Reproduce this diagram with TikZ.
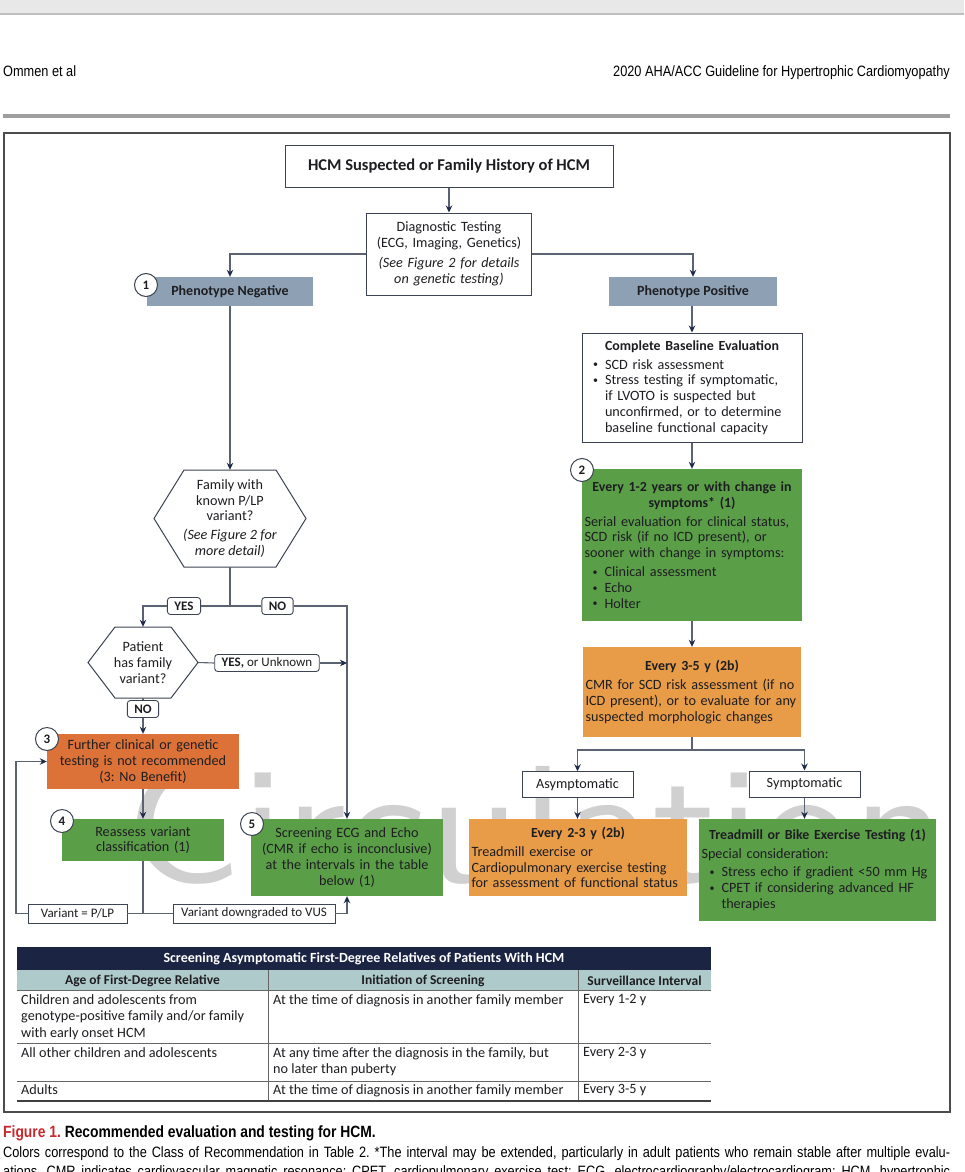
\documentclass[tikz,border=0pt]{standalone}
\usepackage{fontspec}
\setmainfont{Carlito}
\newfontfamily\narrowfont[FakeStretch=0.85]{Liberation Sans}
\usetikzlibrary{arrows.meta,calc}
\definecolor{phen}{HTML}{8DA0B4}
\definecolor{grn}{HTML}{5B9E48}
\definecolor{org}{HTML}{E89C48}
\definecolor{redo}{HTML}{DD7238}
\definecolor{navy}{HTML}{1C2444}
\definecolor{teal}{HTML}{AFCACA}
\definecolor{linec}{HTML}{5B6372}
\definecolor{tipc}{HTML}{1E2A4A}
\definecolor{bordc}{HTML}{3C4352}
\definecolor{txtc}{HTML}{1E1E22}
\definecolor{wmc}{HTML}{D0D0D0}
\definecolor{figred}{HTML}{C62A2F}
\setlength{\parindent}{0pt}
\frenchspacing
\newcommand\fb{\fontsize{14.2}{15.8}\selectfont}
\newcommand\fl{\fontsize{13}{15}\selectfont}
\newcommand\bitem[2]{\par\noindent\makebox[20pt][l]{\hspace{8pt}\raisebox{1.2pt}{\fontsize{10}{10}\selectfont\textbullet}}\parbox[t]{#1}{#2}}
\newcommand\hd[1]{{\centering\fontsize{13.9}{15.8}\selectfont\bfseries #1\par}\vspace{3pt}}
\tikzset{
  conn/.style={draw=linec, line width=1.1pt},
  arr/.style={conn, -{Stealth[length=7pt, width=6.5pt, color=tipc]}},
  wbox/.style={draw=bordc, fill=white, line width=1pt, inner xsep=2.5pt, inner ysep=0pt, text=txtc, font=\fb},
  cbox/.style={inner xsep=2.5pt, inner ysep=0pt, text=txtc, font=\fb},
  pbox/.style={fill=phen, inner sep=0pt, text=txtc, font=\fontsize{14}{16}\selectfont\bfseries},
  hexs/.style={draw=bordc, fill=white, line width=1pt},
  lbl/.style={draw=bordc, fill=white, line width=0.9pt, rounded corners=3pt, inner xsep=7pt, inner ysep=0pt, minimum height=17, font=\fl, text=txtc},
  sq/.style={draw=bordc, fill=white, line width=0.9pt, inner xsep=7pt, inner ysep=0pt, minimum height=19, font=\fl, text=txtc},
  num/.style={circle, draw=bordc, fill=white, line width=1pt, minimum size=23, inner sep=0pt, font=\fontsize{13}{13}\selectfont\bfseries, text=txtc},
  tcell/.style={anchor=north west, inner sep=0pt, align=left, font=\fontsize{14.2}{16.5}\selectfont, text=txtc},
  thd/.style={inner sep=0pt, font=\fontsize{13.5}{16}\selectfont\bfseries, text=txtc},
  tline/.style={draw=gray!80!black, line width=0.8pt}
}
\begin{document}
\begin{tikzpicture}[x=1pt,y=-1pt]
\useasboundingbox (0,0) rectangle (964,1172);
\clip (0,0) rectangle (964,1172);
\fill[white] (0,0) rectangle (964,1172);
% page header
\fill[black!9] (0,0) rectangle (964,13);
\draw[black!25, line width=2pt] (0,14) -- (964,14);
\node[anchor=base west, inner sep=0pt] (hl) at (3,77) {\narrowfont\fontsize{15}{18}\selectfont Ommen et al};
\node[anchor=base east, inner sep=0pt] (hr) at (950,77) {\narrowfont\fontsize{15}{18}\selectfont 2020 AHA/ACC Guideline for Hypertrophic Cardiomyopathy};
\draw[black!38, line width=4pt] (3,116) -- (950,116);
% frame
\draw[black!70, line width=1.5pt] (4,133) rectangle (950,1112);
% watermark
\node[anchor=base west, inner sep=0pt, text=wmc] (wm) at (125,882) {\resizebox{820pt}{118pt}{\sffamily Circulation}};

% top
\node[wbox, minimum width=328, minimum height=42, font=\fontsize{16.5}{19}\selectfont\bfseries] (title) at (449,166) {HCM Suspected or Family History of HCM};
\node[wbox, text width=160, minimum height=82, align=center] (diag) at (449,254) {Diagnostic Testing\\(ECG, Imaging, Genetics)\\[4pt]\textit{(See Figure 2 for details}\\\textit{on genetic testing)}};
\node[pbox, minimum width=166, minimum height=29] (pneg) at (230,291.5) {Phenotype Negative};
\node[pbox, minimum width=168, minimum height=29] (ppos) at (693,291.5) {Phenotype Positive};

% left branch
\draw[hexs] (184,470) -- (276,470) -- (306,518.5) -- (276,567) -- (184,567) -- (154,518.5) -- cycle;
\node[inner sep=0pt, minimum width=152, minimum height=97, align=center, font=\fb, text=txtc] (hex1) at (230,518.5) {Family with\\known P/LP\\variant?\\[3pt]\textit{(See Figure 2 for}\\\textit{more detail)}};
\coordinate (j1) at (230,606);
\node[lbl, font=\fl\bfseries] (yes) at (184,606) {YES};
\node[lbl, font=\fl\bfseries] (no) at (277.5,606) {NO};
\draw[hexs] (115,627) -- (171,627) -- (198,662.5) -- (171,698) -- (115,698) -- (88,662.5) -- cycle;
\node[inner sep=0pt, minimum width=110, minimum height=71, align=center, font=\fb, text=txtc] (hex2) at (143,662.5) {Patient\\has family\\variant?};
\node[lbl] (yesu) at (267,663) {\textbf{YES,} or Unknown};
\node[lbl, font=\fl\bfseries] (no2) at (143,709) {NO};
\node[cbox, fill=redo, minimum width=192, minimum height=55, text width=187, align=center] (box3) at (143,761.5) {Further clinical or genetic\\testing is not recommended\\(3: No Benefit)};
\node[cbox, fill=grn, minimum width=162, minimum height=42, text width=157, align=center] (box4) at (143,840) {Reassess variant\\classification (1)};
\node[cbox, fill=grn, minimum width=192, minimum height=77, text width=187, align=center] (box5) at (347,857.5) {Screening ECG and Echo\\(CMR if echo is inconclusive)\\at the intervals in the table\\below (1)};
\coordinate (j2) at (143,913.5);
\node[sq, minimum width=99] (vplp) at (77.5,913.5) {Variant = P/LP};
\node[sq, minimum width=162] (vus) at (254,913.5) {Variant downgraded to VUS};
\coordinate (lp) at (16,913.5);

% right branch
\node[wbox, minimum width=220, minimum height=109, text width=214, align=left] (base) at (692,387.5) {\hd{Complete Baseline Evaluation}\bitem{190pt}{SCD risk assessment}\bitem{190pt}{Stress testing if symptomatic,\\if LVOTO is suspected but\\unconfirmed, or to determine\\baseline functional capacity}};
\node[cbox, fill=grn, minimum width=220, minimum height=152, text width=215, align=left] (g2) at (692,545) {\hd{Every 1-2 years or with change in\\symptoms* (1)}Serial evaluation for clinical status,\\SCD risk (if no ICD present), or\\sooner with change in symptoms:\par\vspace{3pt}\bitem{190pt}{Clinical assessment}\bitem{190pt}{Echo}\bitem{190pt}{Holter}};
\node[cbox, fill=org, minimum width=218, minimum height=90, text width=213, align=left] (o35) at (692,692) {\hd{Every 3-5 y (2b)}CMR for SCD risk assessment (if no\\ICD present), or to evaluate for any\\suspected morphologic changes};
\coordinate (sp) at (692,750);
\node[wbox, minimum width=111, minimum height=25.5] (asym) at (577.5,784.5) {Asymptomatic};
\node[wbox, minimum width=111, minimum height=26] (sym) at (804.5,784) {Symptomatic};
\node[cbox, fill=org, minimum width=218, minimum height=77, text width=213, align=left] (o23) at (578,857.5) {\hd{Every 2-3 y (2b)}Treadmill exercise or\\Cardiopulmonary exercise testing\\for assessment of functional status};
\node[cbox, fill=grn, minimum width=237, minimum height=102, text width=232, align=left] (g1) at (817.5,870) {\hd{Treadmill or Bike Exercise Testing (1)}Special consideration:\par\vspace{2pt}\bitem{210pt}{Stress echo if gradient <50 mm Hg}\bitem{210pt}{CPET if considering advanced HF\\therapies}};

% numbered circles
\node[num] (n1) at (146,285) {1};
\node[num] (n2) at (582,470) {2};
\node[num] (n3) at (47,739) {3};
\node[num] (n4) at (62,821) {4};
\node[num] (n5) at (252,824) {5};

% connectors
\draw[arr] (title.south) -- (diag.north);
\draw[arr] (diag.west) -| (pneg.north);
\draw[arr] (diag.east) -| (ppos.north);
\draw[arr] (pneg.south) -- (hex1.north);
\draw[conn] (hex1.south) -- (j1);
\draw[conn] (j1) -- (yes.east);
\draw[arr] (yes.west) -| (hex2.north);
\draw[conn] (j1) -- (no.west);
\draw[arr] (no.east) -| (box5.north);
\draw[conn] (hex2.east) -- (yesu.west);
\draw[arr] (yesu.east) -- (yesu.east -| box5.north);
\draw[conn] (hex2.south) -- (no2.north);
\draw[arr] (no2.south) -- (box3.north);
\draw[arr] (box3.south) -- (box4.north);
\draw[conn] (box4.south) -- (j2);
\draw[conn] (j2) -- (vplp.east);
\draw[arr] (vplp.west) -- (lp) |- (box3.west);
\draw[conn] (j2) -- (vus.west);
\draw[arr] (vus.east) -| (box5.south);
\draw[arr] (base.north |- ppos.south) -- (base.north);
\draw[arr] (base.south) -- (g2.north);
\draw[arr] (g2.south) -- (o35.north);
\draw[conn] (o35.south) -- (sp);
\draw[arr] (sp) -| (asym.north);
\draw[arr] (sp) -| (sym.north);
\draw[arr] (asym.south) -- (asym.south |- o23.north);
\draw[arr] (sym.south) -- (sym.south |- g1.north);

% table
\node[fill=navy, minimum width=694, minimum height=23, inner sep=0pt, text=white, font=\fontsize{14}{16}\selectfont\bfseries] (th) at (364,958.5) {Screening Asymptomatic First-Degree Relatives of Patients With HCM};
\fill[teal] (17,970) rectangle (711,990);
\node[thd] (h1) at (142.5,980.5) {Age of First-Degree Relative};
\node[thd] (h2) at (423,980.5) {Initiation of Screening};
\node[thd] (h3) at (644.5,980.5) {Surveillance Interval};
\draw[tline] (268,970) -- (268,1101);
\draw[tline] (578,970) -- (578,1101);
\draw[tline] (17,990) -- (711,990);
\draw[tline] (17,1043) -- (711,1043);
\draw[tline] (17,1081) -- (711,1081);
\draw[black!75, line width=1.5pt] (17,1101) -- (711,1101);
\node[tcell] (r1a) at (21,994) {Children and adolescents from\\genotype-positive family and/or family\\with early onset HCM};
\node[tcell] (r1b) at (273,994) {At the time of diagnosis in another family member};
\node[tcell] (r1c) at (583,994) {Every 1-2 y};
\node[tcell] (r2a) at (21,1047) {All other children and adolescents};
\node[tcell] (r2b) at (273,1047) {At any time after the diagnosis in the family, but\\no later than puberty};
\node[tcell] (r2c) at (583,1047) {Every 2-3 y};
\node[tcell] (r3a) at (21,1084) {Adults};
\node[tcell] (r3b) at (273,1084) {At the time of diagnosis in another family member};
\node[tcell] (r3c) at (583,1084) {Every 3-5 y};

% caption
\node[anchor=base west, inner sep=0pt] (cap1) at (3,1137) {\narrowfont\fontsize{16.3}{18}\selectfont\bfseries\textcolor{figred}{Figure 1.} Recommended evaluation and testing for HCM.};
\node[anchor=base west, inner sep=0pt] (cap2) at (3,1157) {\narrowfont\fontsize{15}{17}\selectfont\hbox to 947pt{Colors correspond to the Class of Recommendation in Table 2. *The interval may be extended, particularly in adult patients who remain stable after multiple evalu-}};
\node[anchor=base west, inner sep=0pt] (cap3) at (3,1176) {\narrowfont\fontsize{15}{17}\selectfont\hbox to 947pt{ations. CMR indicates cardiovascular magnetic resonance; CPET, cardiopulmonary exercise test; ECG, electrocardiography/electrocardiogram; HCM, hypertrophic}};
\end{tikzpicture}
\end{document}
